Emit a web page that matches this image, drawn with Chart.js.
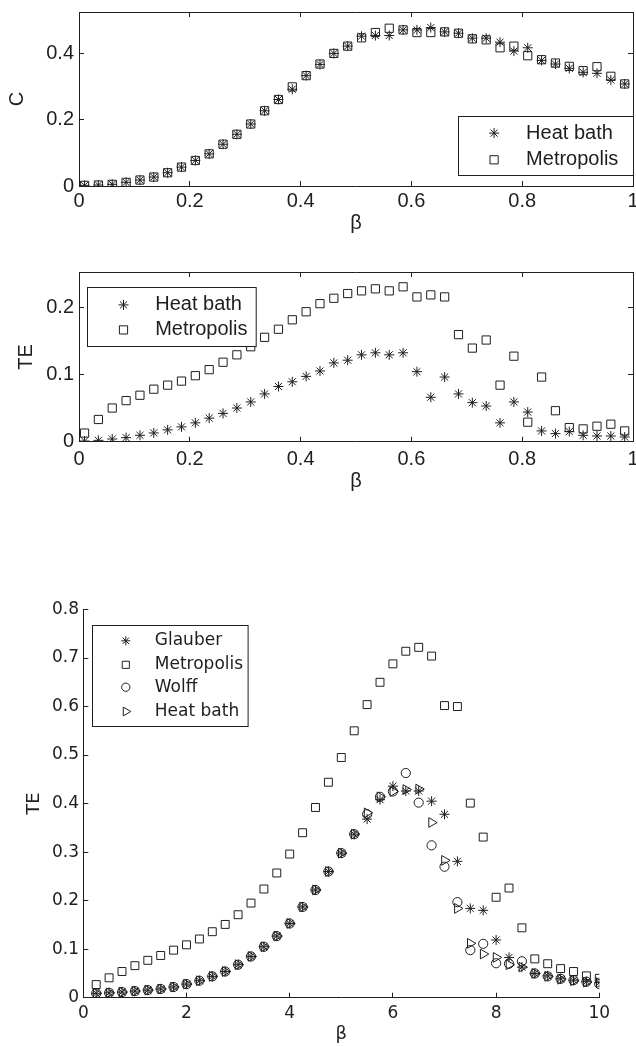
<!DOCTYPE html>
<html>
<head>
<meta charset="utf-8">
<script src="https://cdn.jsdelivr.net/npm/chart.js@4.4.1/dist/chart.umd.min.js"></script>
<style>
html,body{margin:0;padding:0;background:#fff;}
body{width:636px;height:1046px;overflow:hidden;position:relative;}
canvas{position:absolute;left:0;}
</style>
</head>
<body>
<canvas id="c1" width="680" height="260" style="top:-10px"></canvas>
<canvas id="c2" width="680" height="260" style="top:250px"></canvas>
<canvas id="c3" width="680" height="456" style="top:590px"></canvas>
<script>
// ---------- DATA ----------
const beta1 = [0.01,0.035,0.06,0.085,0.11,0.135,0.16,0.185,0.21,0.235,0.26,0.285,0.31,0.335,0.36,0.385,0.41,0.435,0.46,0.485,0.51,0.535,0.56,0.585,0.61,0.635,0.66,0.685,0.71,0.735,0.76,0.785,0.81,0.835,0.86,0.885,0.91,0.935,0.96,0.985];

const cHeatBath = [0.002,0.003,0.005,0.011,0.018,0.027,0.040,0.057,0.077,0.097,0.126,0.156,0.187,0.227,0.261,0.292,0.333,0.367,0.400,0.422,0.452,0.454,0.454,0.471,0.471,0.478,0.465,0.461,0.446,0.446,0.434,0.407,0.417,0.379,0.368,0.355,0.343,0.340,0.320,0.308];
const cMetropolis = [0.002,0.003,0.005,0.011,0.018,0.027,0.040,0.057,0.077,0.097,0.126,0.156,0.187,0.227,0.261,0.299,0.333,0.368,0.400,0.422,0.447,0.463,0.476,0.471,0.463,0.463,0.465,0.461,0.444,0.441,0.417,0.422,0.393,0.381,0.371,0.361,0.348,0.360,0.331,0.308];

const teHeatBath1 = [0.001,0.002,0.004,0.006,0.0095,0.013,0.0176,0.022,0.028,0.035,0.042,0.050,0.059,0.071,0.082,0.089,0.097,0.105,0.117,0.121,0.129,0.132,0.129,0.132,0.104,0.066,0.096,0.071,0.058,0.053,0.028,0.059,0.044,0.016,0.012,0.015,0.0095,0.0085,0.0085,0.007];
const teMetropolis1 = [0.0128,0.033,0.050,0.061,0.069,0.078,0.084,0.090,0.098,0.107,0.118,0.129,0.141,0.155,0.167,0.181,0.193,0.205,0.213,0.220,0.224,0.227,0.224,0.230,0.215,0.218,0.215,0.159,0.139,0.151,0.084,0.127,0.029,0.096,0.046,0.021,0.019,0.023,0.026,0.016];

const beta3 = [0.25,0.5,0.75,1,1.25,1.5,1.75,2,2.25,2.5,2.75,3,3.25,3.5,3.75,4,4.25,4.5,4.75,5,5.25,5.5,5.75,6,6.25,6.5,6.75,7,7.25,7.5,7.75,8,8.25,8.5,8.75,9,9.25,9.5,9.75,10];
const teGlauber = [0.009,0.010,0.0116,0.0136,0.0156,0.018,0.022,0.028,0.035,0.044,0.054,0.068,0.085,0.105,0.127,0.153,0.187,0.222,0.260,0.298,0.337,0.368,0.408,0.436,0.426,0.426,0.405,0.378,0.281,0.184,0.180,0.119,0.083,0.063,0.050,0.045,0.039,0.036,0.033,0.031];
const teMetropolis3 = [0.027,0.041,0.054,0.066,0.077,0.087,0.098,0.109,0.121,0.136,0.151,0.171,0.195,0.224,0.257,0.296,0.340,0.392,0.444,0.495,0.550,0.604,0.650,0.688,0.714,0.722,0.704,0.602,0.600,0.401,0.331,0.207,0.226,0.144,0.080,0.070,0.060,0.054,0.045,0.040];
const teWolff = [0.009,0.010,0.0116,0.0136,0.0156,0.018,0.022,0.028,0.035,0.044,0.054,0.068,0.085,0.105,0.127,0.153,0.187,0.222,0.260,0.298,0.337,0.378,0.414,0.425,0.463,0.402,0.314,0.270,0.197,0.098,0.111,0.071,0.070,0.075,0.050,0.044,0.039,0.036,0.033,0.028];
const teHeatBath3 = [0.009,0.010,0.0116,0.0136,0.0156,0.018,0.022,0.028,0.035,0.044,0.054,0.068,0.085,0.105,0.127,0.153,0.187,0.222,0.260,0.298,0.337,0.381,0.414,0.425,0.429,0.430,0.361,0.283,0.184,0.112,0.090,0.083,0.068,0.063,0.050,0.044,0.038,0.035,0.032,0.031];

// tick values / labels
const xTicks1 = [0,0.2,0.4,0.6,0.8,1];
const xLabels1 = ['0','0.2','0.4','0.6','0.8','1'];
const yTicksC = [0,0.2,0.4];
const yLabelsC = ['0','0.2','0.4'];
const yTicksTE1 = [0,0.1,0.2];
const yLabelsTE1 = ['0','0.1','0.2'];
const xTicks3 = [0,2,4,6,8,10];
const xLabels3 = ['0','2','4','6','8','10'];
const yTicks3 = [0,0.1,0.2,0.3,0.4,0.5,0.6,0.7,0.8];
const yLabels3 = ['0','0.1','0.2','0.3','0.4','0.5','0.6','0.7','0.8'];

// ---------- HELPERS ----------
const INK = '#1e1e1e';
const FONT_A = "'Liberation Sans', Arial, Helvetica, sans-serif";
const FONT_B = "'DejaVu Sans', 'Liberation Sans', sans-serif";

function setTicks(values){ return function(scale){ scale.ticks = values.map(v => ({value: v})); }; }

function mainX(o){
  return {
    type:'linear', position:'bottom', min:o.min, max:o.max,
    afterBuildTicks: setTicks(o.ticks),
    afterFit: s => { s.height = o.height; },
    ticks:{ callback:(v,i)=>o.labels[i], color:INK, font:{family:o.family,size:o.size}, padding:o.pad, maxRotation:0, autoSkip:false },
    grid:{ display:true, drawOnChartArea:false, drawTicks:true, tickLength:-5, color:INK, lineWidth:1 },
    border:{ display:true, color:INK, width:1 },
    title:{ display:true, text:o.title, color:INK, font:{family:o.family,size:o.tsize}, padding:{top:0,bottom:o.tpad} }
  };
}
function mainY(o){
  return {
    type:'linear', position:'left', min:o.min, max:o.max,
    afterBuildTicks: setTicks(o.ticks),
    afterFit: s => { s.width = o.width; },
    ticks:{ callback:(v,i)=>o.labels[i], color:INK, font:{family:o.family,size:o.size}, padding:o.pad, autoSkip:false },
    grid:{ display:true, drawOnChartArea:false, drawTicks:true, tickLength:-5, color:INK, lineWidth:1 },
    border:{ display:true, color:INK, width:1 },
    title:{ display:true, text:o.title, color:INK, font:{family:o.family,size:o.tsize}, padding:{top:o.tpad,bottom:0} }
  };
}
function mirror(axis, position, min, max, ticks){
  return {
    type:'linear', axis, position, min, max,
    afterBuildTicks: setTicks(ticks),
    afterFit: s => { if (axis === 'x') s.height = 0; else s.width = 0; },
    ticks:{ display:false },
    grid:{ display:true, drawOnChartArea:false, drawTicks:true, tickLength:-5, color:INK, lineWidth:1 },
    border:{ display:true, color:INK, width:1 }
  };
}
function series(label, xs, ys, style, r, rot){
  return {
    label, data: xs.map((x,i)=>({x, y: ys[i]})),
    pointStyle: style, pointRadius: r, pointHoverRadius: r, pointRotation: rot || 0,
    borderColor: INK, backgroundColor: 'rgba(0,0,0,0)', pointBorderWidth: 1, borderWidth: 1, showLine: false
  };
}

function drawMarker(ctx, style, x, y, r, rotDeg){
  ctx.beginPath();
  if (style === 'star'){
    for (let k = 0; k < 4; k++){
      const a = k * Math.PI / 4, dx = Math.cos(a) * r, dy = Math.sin(a) * r;
      ctx.moveTo(x - dx, y - dy); ctx.lineTo(x + dx, y + dy);
    }
  } else if (style === 'rect'){
    const s = r * Math.SQRT1_2; ctx.rect(x - s, y - s, 2 * s, 2 * s);
  } else if (style === 'circle'){
    ctx.arc(x, y, r, 0, Math.PI * 2);
  } else if (style === 'triangle'){
    let a = (rotDeg || 0) * Math.PI / 180;
    ctx.moveTo(x + Math.sin(a) * r, y - Math.cos(a) * r);
    a += 2 * Math.PI / 3; ctx.lineTo(x + Math.sin(a) * r, y - Math.cos(a) * r);
    a += 2 * Math.PI / 3; ctx.lineTo(x + Math.sin(a) * r, y - Math.cos(a) * r);
    ctx.closePath();
  }
  ctx.stroke();
}

const boxLegend = {
  id: 'boxLegend',
  afterDraw(chart, args, o){
    const {ctx, chartArea} = chart;
    const x0 = Math.round(chartArea.left + o.dx) + 0.5, y0 = Math.round(chartArea.top + o.dy) + 0.5;
    ctx.save();
    ctx.fillStyle = '#fff'; ctx.strokeStyle = INK; ctx.lineWidth = 1;
    ctx.fillRect(x0, y0, o.w, o.h); ctx.strokeRect(x0, y0, o.w, o.h);
    ctx.font = o.size + 'px ' + o.family;
    ctx.textBaseline = 'middle'; ctx.textAlign = 'left';
    chart.data.datasets.forEach((d, i) => {
      const cy = y0 + o.rows[i];
      ctx.strokeStyle = INK; ctx.lineWidth = 1;
      drawMarker(ctx, d.pointStyle, x0 + o.markerX, cy, d.pointRadius * o.scale, d.pointRotation);
      ctx.fillStyle = INK;
      ctx.fillText(d.label, x0 + o.textX, cy);
    });
    ctx.restore();
  }
};

const common = { responsive:false, animation:false, devicePixelRatio:1, events:[] };

// ---------- CHART 1 : C ----------
new Chart(document.getElementById('c1'), {
  type:'scatter',
  data:{ datasets:[
    series('Heat bath', beta1, cHeatBath, 'star', 5),
    series('Metropolis', beta1, cMetropolis, 'rect', 5.8)
  ]},
  options:Object.assign({}, common, {
    layout:{ padding:{ top:18.3, left:0, right:47, bottom:0 } },
    scales:{
      x: mainX({min:0,max:1,ticks:xTicks1,labels:xLabels1,height:64,family:FONT_A,size:20,pad:8.7,title:'β',tsize:20,tpad:15}),
      y: mainY({min:0,max:0.525,ticks:yTicksC,labels:yLabelsC,width:79,family:FONT_A,size:20,pad:10,title:'C',tsize:20,tpad:5.5}),
      x2: mirror('x','top',0,1,xTicks1),
      y2: mirror('y','right',0,0.525,yTicksC)
    },
    plugins:{ legend:{display:false}, tooltip:{enabled:false},
      boxLegend:{ dx:378.7, dy:104.4, w:175, h:59, rows:[16.6,43.3], markerX:35.6, textX:67.6, family:FONT_A, size:20, scale:1 } }
  }),
  plugins:[boxLegend]
});

// ---------- CHART 2 : TE (two methods) ----------
new Chart(document.getElementById('c2'), {
  type:'scatter',
  data:{ datasets:[
    series('Heat bath', beta1, teHeatBath1, 'star', 5),
    series('Metropolis', beta1, teMetropolis1, 'rect', 5.8)
  ]},
  options:Object.assign({}, common, {
    layout:{ padding:{ top:14.3, left:0, right:47, bottom:0 } },
    scales:{
      x: mainX({min:0,max:1,ticks:xTicks1,labels:xLabels1,height:68.3,family:FONT_A,size:20,pad:10.3,title:'β',tsize:20,tpad:17}),
      y: mainY({min:0,max:0.252,ticks:yTicksTE1,labels:yLabelsTE1,width:79,family:FONT_A,size:20,pad:10,title:'TE',tsize:20,tpad:14}),
      x2: mirror('x','top',0,1,xTicks1),
      y2: mirror('y','right',0,0.252,yTicksTE1)
    },
    plugins:{ legend:{display:false}, tooltip:{enabled:false},
      boxLegend:{ dx:8.3, dy:15, w:168.7, h:59, rows:[17.4,42.4], markerX:36, textX:67.7, family:FONT_A, size:20, scale:1 } }
  }),
  plugins:[boxLegend]
});

// ---------- CHART 3 : TE (four methods) ----------
new Chart(document.getElementById('c3'), {
  type:'scatter',
  data:{ datasets:[
    series('Glauber', beta3, teGlauber, 'star', 5),
    series('Metropolis', beta3, teMetropolis3, 'rect', 5.6),
    series('Wolff', beta3, teWolff, 'circle', 4.6),
    series('Heat bath', beta3, teHeatBath3, 'triangle', 5.6, 90)
  ]},
  options:Object.assign({}, common, {
    layout:{ padding:{ top:14, left:0, right:80.7, bottom:0 } },
    scales:{
      x: mainX({min:0,max:10,ticks:xTicks3,labels:xLabels3,height:48.3,family:FONT_B,size:17,pad:10.6,title:'β',tsize:18,tpad:1.2}),
      y: mainY({min:0,max:0.8,ticks:yTicks3,labels:yLabels3,width:83.3,family:FONT_B,size:17,pad:9.3,title:'TE',tsize:18,tpad:23.2})
    },
    plugins:{ legend:{display:false}, tooltip:{enabled:false},
      boxLegend:{ dx:8.4, dy:15, w:155.6, h:101, rows:[15.3,39.3,61.7,86], markerX:33.3, textX:62.3, family:FONT_B, size:17, scale:0.9 } }
  }),
  plugins:[boxLegend]
});
</script>
</body>
</html>
